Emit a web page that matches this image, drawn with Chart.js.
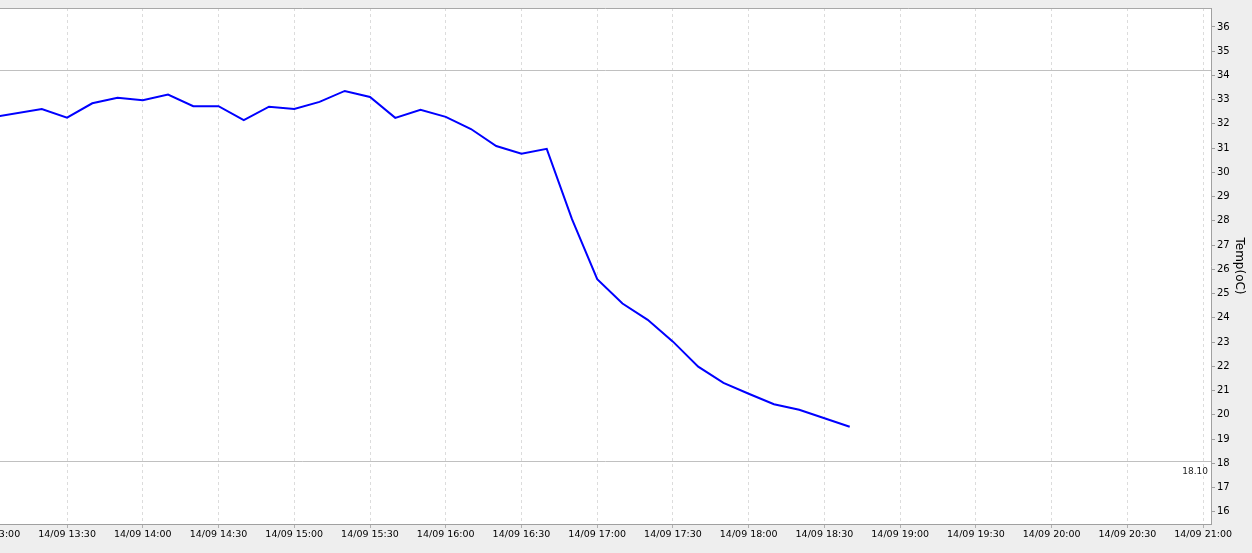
<!DOCTYPE html>
<html>
<head>
<meta charset="utf-8">
<script src="https://cdn.jsdelivr.net/npm/chart.js@4/dist/chart.umd.min.js"></script>
<style>
html, body { margin: 0; padding: 0; background: #eeeeee; overflow: hidden; }
#wrap { width: 1252px; height: 553px; position: relative; }
</style>
</head>
<body>
<div id="wrap"><canvas id="myChart"></canvas></div>
<script>
var dayLabel = '14/09';
var times = ['13:00', '13:20', '13:30', '13:40', '13:50', '14:00', '14:10', '14:20', '14:30', '14:40',
             '14:50', '15:00', '15:10', '15:20', '15:30', '15:40', '15:50', '16:00', '16:10', '16:20',
             '16:30', '16:40', '16:50', '17:00', '17:10', '17:20', '17:30', '17:40', '17:50', '18:00',
             '18:10', '18:20', '18:30', '18:40'];
var temps = [32.27, 32.61, 32.26, 32.85, 33.08, 32.98, 33.21, 32.73, 32.73, 32.16,
             32.71, 32.62, 32.91, 33.36, 33.11, 32.25, 32.58, 32.29, 31.79, 31.09,
             30.77, 30.97, 28.07, 25.60, 24.59, 23.92, 23.02, 21.99, 21.32, 20.87,
             20.44, 20.21, 19.86, 19.51];
var xTickLabels = ['13:00', '13:30', '14:00', '14:30', '15:00', '15:30', '16:00', '16:30', '17:00',
                   '17:30', '18:00', '18:30', '19:00', '19:30', '20:00', '20:30', '21:00'];
var yTickValues = [16, 17, 18, 19, 20, 21, 22, 23, 24, 25, 26, 27, 28, 29, 30, 31, 32, 33, 34, 35, 36];
var limitValues = [34.23, 18.10];
var limitLabels = ['', '18.10'];

// minutes since 13:00
function toMin(t) {
    var p = t.split(':');
    return (parseInt(p[0], 10) - 13) * 60 + parseInt(p[1], 10);
}
function fmt(m) {
    var h = 13 + Math.floor(m / 60);
    var mm = m % 60;
    return (h < 10 ? '0' : '') + h + ':' + (mm < 10 ? '0' : '') + mm;
}

var points = [];
for (var i = 0; i < times.length; i++) {
    points.push({x: toMin(times[i]), y: temps[i]});
}

var frame = {
    id: 'frame',
    beforeDraw: function (chart) {
        var a = chart.chartArea, ctx = chart.ctx;
        ctx.save();
        ctx.fillStyle = '#ffffff';
        ctx.fillRect(a.left, a.top, a.right - a.left, a.bottom - a.top);
        ctx.restore();
    },
    beforeDatasetsDraw: function (chart) {
        var a = chart.chartArea, ctx = chart.ctx, y = chart.scales.y;
        ctx.save();
        ctx.strokeStyle = '#c0c0c0';
        ctx.lineWidth = 1;
        ctx.fillStyle = '#222';
        ctx.font = '9px "DejaVu Sans"';
        ctx.textAlign = 'right';
        ctx.textBaseline = 'alphabetic';
        for (var k = 0; k < limitValues.length; k++) {
            var py = Math.round(y.getPixelForValue(limitValues[k])) + 0.5;
            ctx.beginPath();
            ctx.moveTo(a.left, py);
            ctx.lineTo(a.right, py);
            ctx.stroke();
            if (limitLabels[k]) ctx.fillText(limitLabels[k], a.right - 3, py + 12);
        }
        ctx.restore();
    },
    afterDraw: function (chart) {
        var a = chart.chartArea, ctx = chart.ctx;
        ctx.save();
        ctx.strokeStyle = '#a8a8a8';
        ctx.lineWidth = 1;
        ctx.beginPath();
        ctx.moveTo(a.left, a.top + 0.5);
        ctx.lineTo(a.right, a.top + 0.5);
        ctx.stroke();
        ctx.restore();
    }
};

var ctx = document.getElementById('myChart');
var myChart = new Chart(ctx, {
    type: 'line',
    data: {
        datasets: [{
            label: 'Temp',
            data: points,
            borderColor: '#0000ff',
            borderWidth: 2,
            pointRadius: 0,
            tension: 0,
            fill: false
        }]
    },
    options: {
        responsive: true,
        maintainAspectRatio: false,
        animation: false,
        layout: {padding: {top: 8, left: 0, right: 0, bottom: 0}},
        plugins: {legend: {display: false}, tooltip: {enabled: false}},
        scales: {
            x: {
                type: 'linear',
                position: 'bottom',
                min: 3.45,
                max: 483.1,
                afterBuildTicks: function (s) {
                    s.ticks = xTickLabels.map(function (t) { return {value: toMin(t)}; });
                },
                afterFit: function (s) {
                    s.paddingLeft = 0;
                    s.paddingRight = 0;
                    s.height = 29;
                },
                ticks: {
                    autoSkip: false,
                    maxRotation: 0,
                    minRotation: 0,
                    padding: 1,
                    color: '#000',
                    font: {family: 'DejaVu Sans', size: 9.5},
                    callback: function (v) { return dayLabel + ' ' + fmt(v); }
                },
                grid: {color: '#dcdcdc', tickLength: 4, tickColor: '#b0b0b0'},
                border: {color: '#a0a0a0', dash: [3, 3]}
            },
            y: {
                position: 'right',
                min: 15.5,
                max: 36.78,
                afterBuildTicks: function (s) {
                    s.ticks = yTickValues.map(function (v) { return {value: v}; });
                },
                afterFit: function (s) {
                    s.width = 41;
                },
                ticks: {
                    padding: 2,
                    color: '#000',
                    font: {family: 'DejaVu Sans', size: 10}
                },
                grid: {drawOnChartArea: false, tickLength: 4, tickColor: '#a0a0a0'},
                border: {color: '#a0a0a0'},
                title: {
                    display: true,
                    text: 'Temp(oC)',
                    color: '#000',
                    font: {family: 'DejaVu Sans', size: 12},
                    padding: {top: 6, bottom: 0}
                }
            }
        }
    },
    plugins: [frame]
});
</script>
</body>
</html>
